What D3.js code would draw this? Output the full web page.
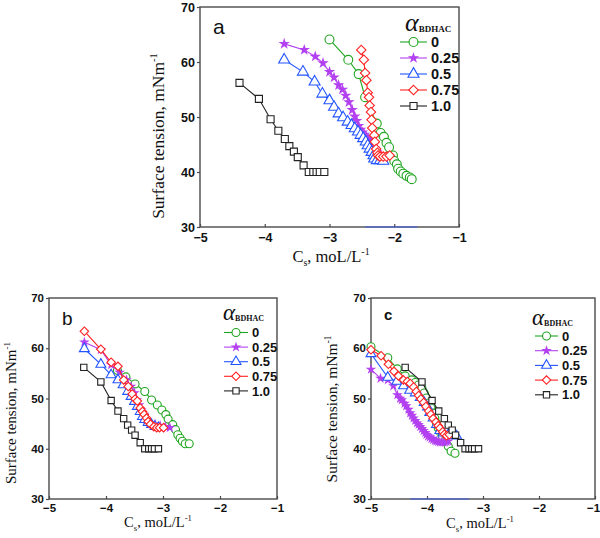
<!DOCTYPE html>
<html><head><meta charset="utf-8">
<script src="https://cdn.jsdelivr.net/npm/d3@7"></script>
<style>body{margin:0;background:#fff}svg{display:block}</style>
</head><body>
<svg id="chart" width="600" height="538"></svg>
<script>
// ---------- DATA ----------
const seriesNames = ["0", "0.25", "0.5", "0.75", "1.0"];
const xTicks = [-5, -4, -3, -2, -1];
const yTicks = [30, 40, 50, 60, 70];

// pure BDHAC (alpha = 1.0), same in all panels
const pure_1 = [[-4.39,56.2],[-4.09,53.3],[-3.91,49.6],[-3.79,47.5],[-3.69,46.0],[-3.62,44.7],[-3.55,43.7],[-3.49,42.7],[-3.40,41.2],[-3.32,40.0],[-3.25,40.0],[-3.20,40.0],[-3.15,40.0],[-3.08,40.0]];

// Panel a
const a_0 = [[-3.00,64.1],[-2.71,60.4],[-2.55,57.8],[-2.45,53.6],[-2.27,48.8],[-2.21,47.1],[-2.16,46.4],[-2.12,45.3],[-2.08,44.5],[-2.02,43.0],[-2.00,42.0],[-1.96,41.4],[-1.94,40.6],[-1.90,40.1],[-1.86,39.7],[-1.81,39.3],[-1.76,39.0],[-1.73,38.7]];
const a_025 = [[-3.70,63.3],[-3.39,62.2],[-3.22,61.0],[-3.10,59.8],[-3.00,58.2],[-2.93,57.2],[-2.86,55.8],[-2.80,55.0],[-2.75,53.9],[-2.70,52.7],[-2.65,51.3],[-2.61,50.1],[-2.58,49.3],[-2.55,48.4],[-2.52,47.7],[-2.49,47.2],[-2.46,46.8],[-2.43,46.4],[-2.40,46.0],[-2.37,45.6],[-2.35,45.2],[-2.33,44.8],[-2.31,44.4],[-2.29,44.0],[-2.27,43.6]];
const a_05 = [[-3.70,60.4],[-3.41,58.2],[-3.23,56.4],[-3.11,54.2],[-3.00,53.0],[-2.93,51.8],[-2.86,50.6],[-2.79,49.9],[-2.72,49.1],[-2.66,48.5],[-2.61,47.9],[-2.56,47.3],[-2.52,46.7],[-2.48,46.1],[-2.44,45.5],[-2.41,44.8],[-2.38,44.2],[-2.35,43.6],[-2.32,43.0],[-2.31,42.4],[-2.27,42.1],[-2.22,42.1],[-2.17,42.0]];
const a_075 = [[-2.51,62.2],[-2.47,60.4],[-2.45,58.0],[-2.43,56.7],[-2.41,54.4],[-2.39,53.6],[-2.38,52.1],[-2.36,50.9],[-2.35,49.5],[-2.34,48.0],[-2.31,46.7],[-2.30,45.5],[-2.28,44.2],[-2.26,43.5],[-2.25,43.0],[-2.22,42.8],[-2.17,42.8],[-2.12,42.8],[-2.07,43.0]];

// Panel b
const b_0 = [[-3.80,55.6],[-3.65,54.3],[-3.49,52.9],[-3.32,51.4],[-3.20,49.7],[-3.10,48.7],[-3.02,47.7],[-2.95,46.8],[-2.91,45.9],[-2.83,44.8],[-2.78,43.8],[-2.74,42.8],[-2.70,42.1],[-2.66,41.5],[-2.61,41.0],[-2.54,41.0]];
const b_025 = [[-4.38,61.2],[-4.09,59.7],[-3.91,56.7],[-3.76,55.2],[-3.64,53.7],[-3.56,52.4],[-3.50,51.1],[-3.46,49.7],[-3.42,48.7],[-3.38,47.7],[-3.33,46.8],[-3.29,45.8],[-3.23,45.1],[-3.14,44.9],[-3.05,44.6],[-2.96,44.4],[-2.88,44.2]];
const b_05 = [[-4.38,59.9],[-4.09,56.8],[-3.91,54.7],[-3.79,53.7],[-3.70,52.7],[-3.62,51.4],[-3.56,50.4],[-3.50,49.4],[-3.45,48.4],[-3.40,47.4],[-3.36,46.4],[-3.32,45.8],[-3.26,45.2],[-3.20,44.8],[-3.14,44.4],[-3.08,44.2]];
const b_075 = [[-4.38,63.4],[-4.09,59.8],[-3.91,57.2],[-3.79,56.4],[-3.69,53.7],[-3.61,52.4],[-3.54,50.9],[-3.49,49.9],[-3.45,49.5],[-3.40,48.1],[-3.36,47.4],[-3.33,46.8],[-3.29,46.1],[-3.26,45.4],[-3.22,44.9],[-3.16,44.4],[-3.11,44.2],[-3.06,44.2],[-2.99,44.2]];

// Panel c
const c_0 = [[-5.00,60.3],[-4.70,58.1],[-4.53,55.9],[-4.39,54.5],[-4.27,53.7],[-4.21,53.2],[-4.15,52.7],[-4.09,52.1],[-4.05,51.1],[-4.01,50.1],[-3.97,49.1],[-3.93,48.1],[-3.89,47.1],[-3.86,46.1],[-3.83,45.1],[-3.80,44.1],[-3.77,43.4],[-3.73,42.5],[-3.68,41.5],[-3.62,40.5],[-3.57,39.5],[-3.50,39.1]];
const c_025 = [[-5.00,55.8],[-4.83,54.0],[-4.70,53.7],[-4.60,52.5],[-4.53,50.7],[-4.48,50.0],[-4.45,49.7],[-4.40,49.0],[-4.37,48.5],[-4.33,47.8],[-4.30,47.1],[-4.27,46.6],[-4.24,46.1],[-4.21,45.6],[-4.18,45.1],[-4.15,44.8],[-4.12,44.4],[-4.09,44.0],[-4.06,43.6],[-4.03,43.2],[-4.01,42.8],[-3.98,42.5],[-3.95,42.3],[-3.92,42.0],[-3.89,41.8],[-3.86,41.6],[-3.83,41.5],[-3.80,41.4],[-3.77,41.3],[-3.74,41.3],[-3.71,41.3],[-3.68,41.3],[-3.65,41.4],[-3.62,41.5]];
const c_05 = [[-5.00,58.9],[-4.70,54.2],[-4.54,53.4],[-4.42,52.5],[-4.31,51.6],[-4.21,51.1],[-4.12,50.2],[-4.05,49.2],[-3.99,48.3],[-3.95,47.2],[-3.89,46.1],[-3.83,44.8],[-3.77,43.6],[-3.71,43.1],[-3.62,42.8],[-3.53,42.6],[-3.47,42.5]];
const c_075 = [[-5.00,59.7],[-4.82,58.5],[-4.69,56.8],[-4.59,55.4],[-4.51,54.5],[-4.42,53.7],[-4.35,53.4],[-4.30,53.0],[-4.24,52.3],[-4.19,51.4],[-4.15,50.6],[-4.11,49.9],[-4.06,49.2],[-4.02,48.4],[-3.97,47.5],[-3.93,46.8],[-3.89,46.0],[-3.84,45.3],[-3.80,44.6],[-3.77,44.1],[-3.72,43.4],[-3.69,42.9],[-3.65,42.6],[-3.60,42.8]];

// faint blue trace lying on the x axis (artifact in the original)
const a_axisTrace = [-2.45, -1.64];
const c_axisTrace = [-4.30, -3.25];

// ---------- STYLE ----------
const colors = ["#1fa51f", "#b340f0", "#2255ff", "#ff2222", "#222222"];
const symbols = [d3.symbolCircle, d3.symbolStar, d3.symbolTriangle, d3.symbolSquare, d3.symbolSquare];
const symScale = [1, 0.32, 0.85, 0.72, 0.8];
const symRot = [0, 0, 0, 45, 0];
const filled = [false, true, false, false, false];

const svg = d3.select("#chart");
const AX = "#4a4a4a";

function marker(sel, i, size) {
  sel.attr("d", d3.symbol().type(symbols[i]).size(size * symScale[i])())
    .attr("fill", filled[i] ? colors[i] : "#fff")
    .attr("stroke", colors[i]).attr("stroke-width", 1.1);
}

function drawPanel(p) {
  const x = d3.scaleLinear().domain([-5, -1]).range([p.left, p.right]);
  const y = d3.scaleLinear().domain([30, 70]).range([p.bottom, p.top]);
  const g = svg.append("g");

  g.append("g").attr("transform", `translate(0,${p.bottom})`)
    .call(d3.axisBottom(x).tickValues(xTicks).tickSize(-3).tickPadding(p.xPad).tickFormat(d3.format("d")))
    .call(s => { s.select(".domain").remove();
      s.selectAll("line").attr("stroke", AX).attr("stroke-width", 1.2);
      s.selectAll("text").attr("fill", "#111").attr("font-family", "Liberation Sans, Arial, sans-serif")
        .attr("font-weight", "bold").attr("font-size", p.tickFs)
        .attr("dx", d => (p.lastTickDx && d === -1) ? p.lastTickDx : 0); });
  g.append("g").attr("transform", `translate(${p.left},0)`)
    .call(d3.axisLeft(y).tickValues(yTicks).tickSize(3).tickPadding(2).tickFormat(d3.format("d")))
    .call(s => { s.select(".domain").remove();
      s.selectAll("line").attr("stroke", AX).attr("stroke-width", 1.2);
      s.selectAll("text").attr("fill", "#111").attr("font-family", "Liberation Sans, Arial, sans-serif")
        .attr("font-weight", "bold").attr("font-size", p.tickFs); });

  g.append("rect").attr("x", p.left).attr("y", p.top)
    .attr("width", p.right - p.left).attr("height", p.bottom - p.top)
    .attr("fill", "none").attr("stroke", AX).attr("stroke-width", 1.4);

  if (p.trace) {
    g.append("line").attr("x1", x(p.trace[0])).attr("x2", x(p.trace[1]))
      .attr("y1", y(30)).attr("y2", y(30)).attr("stroke", "#3355ff")
      .attr("stroke-opacity", 0.55).attr("stroke-width", 1.4);
  }

  const line = d3.line().x(d => x(d[0])).y(d => y(d[1]));
  p.series.forEach((data, i) => {
    const sg = g.append("g");
    sg.append("path").attr("d", line(data)).attr("fill", "none")
      .attr("stroke", colors[i]).attr("stroke-width", 1.1);
    sg.selectAll("path.m").data(data).join("path").attr("class", "m")
      .attr("transform", d => `translate(${x(d[0])},${y(d[1])}) rotate(${symRot[i]})`)
      .call(marker, i, p.mSize);
  });

  g.append("text").attr("x", p.letterX).attr("y", p.letterY).text(p.letter)
    .attr("font-family", "Liberation Sans, Arial, sans-serif").attr("font-size", p.letterFs)
    .attr("font-weight", p.letterBold ? "bold" : "normal").attr("fill", "#111");

  const lg = g.append("g");
  const t = lg.append("text").attr("x", p.legTitleX).attr("y", p.legTitleY).attr("fill", "#111")
    .attr("font-family", "Liberation Serif, Times New Roman, serif");
  t.append("tspan").text("α").attr("font-size", p.alphaFs).attr("font-style", "italic");
  t.append("tspan").text("BDHAC").attr("font-size", p.subFs).attr("font-weight", "bold").attr("dy", 1);
  seriesNames.forEach((nm, i) => {
    const yy = p.legY0 + i * p.legDy;
    lg.append("line").attr("x1", p.legX).attr("x2", p.legX + p.legLen)
      .attr("y1", yy).attr("y2", yy).attr("stroke", colors[i]).attr("stroke-width", 1.1);
    lg.append("path").attr("transform", `translate(${p.legX + p.legLen / 2},${yy}) rotate(${symRot[i]})`)
      .call(marker, i, p.mSize);
    lg.append("text").attr("x", p.legX + p.legLen + 4).attr("y", yy).attr("dy", "0.36em")
      .text(nm).attr("font-family", "Liberation Sans, Arial, sans-serif")
      .attr("font-weight", "bold").attr("font-size", p.legFs).attr("fill", "#111");
  });

  const yt = g.append("text").attr("transform", `translate(${p.yLabX},${p.yLabY}) rotate(-90)`)
    .attr("text-anchor", "middle").attr("font-family", "Liberation Serif, Times New Roman, serif")
    .attr("font-size", p.yLabFs).attr("fill", "#111");
  yt.append("tspan").text("Surface tension, mNm");
  yt.append("tspan").text("-1").attr("font-size", p.yLabFs * 0.6).attr("dy", -p.yLabFs * 0.4);

  const xt = g.append("text").attr("x", p.xLabX).attr("y", p.xLabY)
    .attr("text-anchor", "middle").attr("font-family", "Liberation Serif, Times New Roman, serif")
    .attr("font-size", p.xLabFs).attr("fill", "#111");
  xt.append("tspan").text("C");
  xt.append("tspan").text("s").attr("font-size", p.xLabFs * 0.6).attr("dy", p.xLabFs * 0.25);
  xt.append("tspan").text(", moL/L").attr("dy", -p.xLabFs * 0.25);
  xt.append("tspan").text("-1").attr("font-size", p.xLabFs * 0.6).attr("dy", -p.xLabFs * 0.4);
}

drawPanel({
  left: 200, right: 459, top: 7, bottom: 227, xPad: 6, tickFs: 12.5, mSize: 62,
  series: [a_0, a_025, a_05, a_075, pure_1], trace: a_axisTrace,
  letter: "a", letterX: 213, letterY: 34, letterFs: 21, letterBold: false,
  legTitleX: 405, legTitleY: 31, alphaFs: 26, subFs: 9, legX: 400, legY0: 42, legDy: 16, legLen: 27, legFs: 14.5,
  yLabX: 164, yLabY: 136, yLabFs: 17.5, xLabX: 331, xLabY: 262, xLabFs: 16.5
});
drawPanel({
  left: 49, right: 277, top: 298, bottom: 499, xPad: 5, tickFs: 11.5, mSize: 50,
  series: [b_0, b_025, b_05, b_075, pure_1],
  letter: "b", letterX: 62, letterY: 325, letterFs: 19, letterBold: false,
  legTitleX: 223, legTitleY: 320, alphaFs: 23, subFs: 8, legX: 224, legY0: 332.5, legDy: 14.6, legLen: 24, legFs: 13,
  yLabX: 16, yLabY: 413, yLabFs: 15, xLabX: 158, xLabY: 527, xLabFs: 14.5
});
drawPanel({
  left: 371, right: 595, top: 298, bottom: 499, xPad: 5, tickFs: 11.5, mSize: 50, lastTickDx: -2,
  series: [c_0, c_025, c_05, c_075, pure_1], trace: c_axisTrace,
  letter: "c", letterX: 384, letterY: 320, letterFs: 15, letterBold: true,
  legTitleX: 532, legTitleY: 325, alphaFs: 23, subFs: 8, legX: 535, legY0: 336, legDy: 14.7, legLen: 23, legFs: 13,
  yLabX: 337, yLabY: 409, yLabFs: 15.5, xLabX: 480, xLabY: 528, xLabFs: 14.5
});
</script>
</body></html>
